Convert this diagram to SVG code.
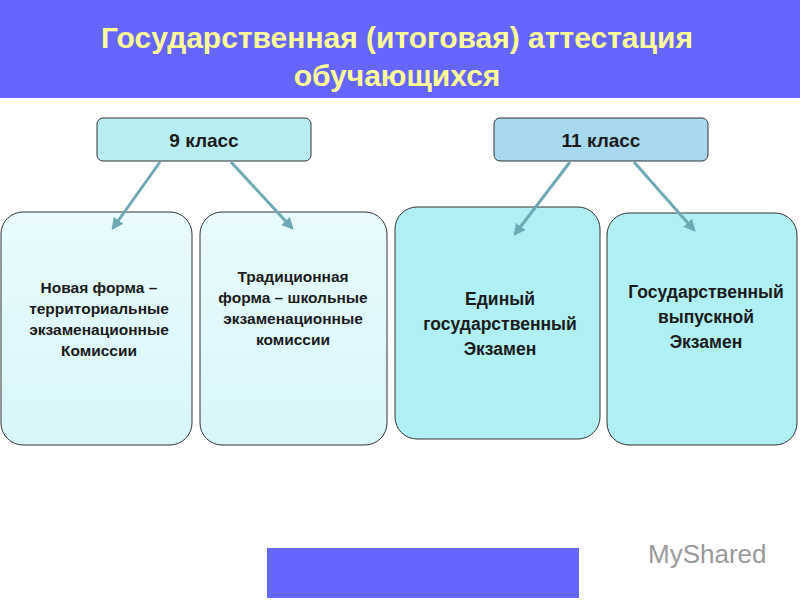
<svg xmlns="http://www.w3.org/2000/svg" width="800" height="600" viewBox="0 0 800 600">
<defs>
<linearGradient id="g1" x1="0" y1="0" x2="0" y2="1"><stop offset="0" stop-color="#e9fbfd"/><stop offset="1" stop-color="#d8f6fa"/></linearGradient>
<marker id="ah" viewBox="0 0 10 10" refX="8" refY="5" markerWidth="4" markerHeight="4" orient="auto"><path d="M0,0L10,5L0,10z" fill="#6fa9b3"/></marker>
</defs>
<style>
.t{font-family:"Liberation Sans",Arial,sans-serif;font-weight:bold;fill:#1a1a1a;text-anchor:middle}
.h{font-family:"Liberation Sans",Arial,sans-serif;font-weight:bold;fill:#ffff99;font-size:30px;text-anchor:middle}
.c{stroke:#6fa9b3;stroke-width:3;fill:none;marker-end:url(#ah)}
.box{stroke:#333;stroke-width:1}
</style>
<rect width="800" height="600" fill="#fff"/>
<rect x="0" y="0" width="800" height="98" fill="#6666ff"/>
<text class="h" x="397" y="48">Государственная (итоговая) аттестация</text>
<text class="h" x="397" y="86">обучающихся</text>
<g id="n9"><rect class="box" x="97" y="118" width="214" height="43" rx="6" fill="#b8eef2"/><text class="t" x="204" y="147" font-size="19">9 класс</text></g>
<g id="n11"><rect class="box" x="494" y="118" width="214" height="43" rx="6" fill="#a8d8ee"/><text class="t" x="601" y="147" font-size="19">11 класс</text></g>
<g id="a"><rect class="box" x="1" y="212" width="191" height="233" rx="22" fill="url(#g1)"/>
<text class="t" font-size="15.5"><tspan x="99" y="293">Новая форма –</tspan><tspan x="99" y="314">территориальные</tspan><tspan x="99" y="335">экзаменационные</tspan><tspan x="99" y="356">Комиссии</tspan></text></g>
<g id="b"><rect class="box" x="200" y="212" width="187" height="233" rx="22" fill="url(#g1)"/>
<text class="t" font-size="15.5"><tspan x="293" y="282">Традиционная</tspan><tspan x="293" y="303">форма – школьные</tspan><tspan x="293" y="324">экзаменационные</tspan><tspan x="293" y="345">комиссии</tspan></text></g>
<g id="c"><rect class="box" x="395" y="207" width="205" height="232" rx="22" fill="#b0f0f4"/>
<text class="t" font-size="17.5"><tspan x="500" y="305">Единый</tspan><tspan x="500" y="330">государственный</tspan><tspan x="500" y="355">Экзамен</tspan></text></g>
<g id="d"><rect class="box" x="607" y="213" width="190" height="232" rx="22" fill="#b0f0f4"/>
<text class="t" font-size="17.5"><tspan x="706" y="298">Государственный</tspan><tspan x="706" y="323">выпускной</tspan><tspan x="706" y="348">Экзамен</tspan></text></g>
<g id="connectors">
<line class="c" x1="160" y1="162" x2="113" y2="228"/>
<line class="c" x1="231" y1="162" x2="292" y2="228"/>
<line class="c" x1="570" y1="162" x2="515" y2="234"/>
<line class="c" x1="634" y1="162" x2="694" y2="230"/>
</g>
<rect x="267" y="548" width="312" height="50" fill="#6666ff"/>
<text x="648" y="563" font-family="'Liberation Sans',Arial,sans-serif" font-size="26" fill="#9a9a9a">MyShared</text>
</svg>
